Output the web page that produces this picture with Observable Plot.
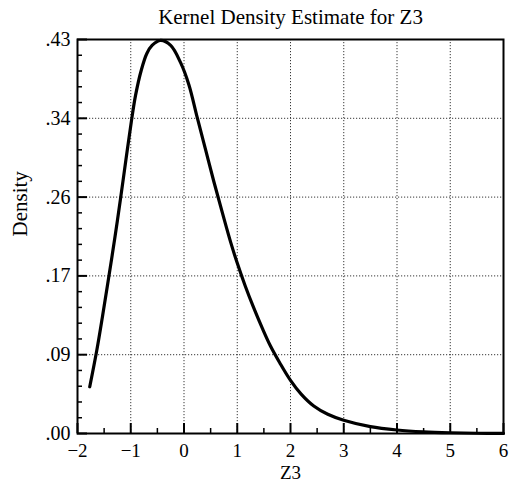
<!DOCTYPE html>
<html>
<head>
<meta charset="utf-8">
<script src="https://cdn.jsdelivr.net/npm/d3@7"></script>
<script src="https://cdn.jsdelivr.net/npm/@observablehq/plot@0.6"></script>
<style>
  html, body { margin: 0; padding: 0; background: white; }
</style>
</head>
<body>
<div id="chart"></div>
<script>
const titleText = "Kernel Density Estimate for Z3";
const xLabel = "Z3";
const yLabel = "Density";

// density curve
const zValues = [-1.77, -1.64, -1.53, -1.415, -1.30, -1.195, -1.09, -0.99, -0.91, -0.80, -0.70, -0.60, -0.44, -0.25, -0.066, 0.09, 0.248, 0.404, 0.56, 0.72, 0.88, 1.0, 1.15, 1.31, 1.47, 1.624, 1.8, 2.0, 2.2, 2.437, 2.7, 3.0, 3.5, 4.0, 4.5, 5.0, 5.5, 6.0];
const densityValues = [0.051, 0.090, 0.128, 0.170, 0.213, 0.255, 0.299, 0.340, 0.369, 0.397, 0.4145, 0.4235, 0.429, 0.4235, 0.405, 0.381, 0.345, 0.310, 0.275, 0.241, 0.208, 0.186, 0.161, 0.137, 0.115, 0.0955, 0.077, 0.058, 0.043, 0.030, 0.021, 0.0145, 0.0075, 0.0038, 0.0018, 0.0008, 0.0003, 0.0001];

// axes
const xTicks = [-2, -1, 0, 1, 2, 3, 4, 5, 6];
const xTickLabels = ["\u22122", "\u22121", "0", "1", "2", "3", "4", "5", "6"];
const yTicks = [0, 0.086, 0.172, 0.258, 0.344, 0.43];
const yTickLabels = [".00", ".09", ".17", ".26", ".34", ".43"];

const data = zValues.map((z, i) => ({z, d: densityValues[i]}));
const xMinor = d3.range(xTicks.length - 1).map(i => (xTicks[i] + xTicks[i + 1]) / 2);
const yMinor = [];
for (let i = 0; i < yTicks.length - 1; i++) {
  for (let k = 1; k < 5; k++) yMinor.push(yTicks[i] + (yTicks[i + 1] - yTicks[i]) * k / 5);
}

const W = 512, H = 492;
const mL = 77, mR = 9, mT = 39, mB = 59;
const innerW = W - mL - mR, innerH = H - mT - mB;

const grid = {stroke: "#222", strokeWidth: 1, strokeDasharray: "1.2,1.8", strokeOpacity: 0.9};
const font = "'Liberation Serif', 'DejaVu Serif', serif";

const chart = Plot.plot({
  width: W, height: H,
  marginLeft: mL, marginRight: mR, marginTop: mT, marginBottom: mB,
  style: {fontFamily: font, fontSize: "20px", background: "white", color: "black", overflow: "visible"},
  x: {domain: [-2, 6], axis: null},
  y: {domain: [0, 0.43], axis: null},
  marks: [
    Plot.ruleX(xTicks.slice(1, -1), {x: d => d, ...grid}),
    Plot.ruleY(yTicks.slice(1, -1), {y: d => d, ...grid}),
    Plot.tickX(xTicks, {x: d => d, insetTop: innerH - 10, stroke: "black", strokeWidth: 2}),
    Plot.tickX(xMinor, {x: d => d, insetTop: innerH - 5, stroke: "black", strokeWidth: 1.5}),
    Plot.tickY(yTicks, {y: d => d, insetRight: innerW - 10, stroke: "black", strokeWidth: 2}),
    Plot.tickY(yMinor, {y: d => d, insetRight: innerW - 5, stroke: "black", strokeWidth: 1.5}),
    Plot.line(data, {x: "z", y: "d", curve: "catmull-rom", stroke: "black", strokeWidth: 3.2}),
    Plot.frame({stroke: "black", strokeWidth: 2}),
    Plot.text(xTicks, {x: d => d, frameAnchor: "bottom", lineAnchor: "middle", dy: 17, fontSize: 19, text: d => xTickLabels[xTicks.indexOf(d)]}),
    Plot.text(yTicks, {y: d => d, frameAnchor: "left", textAnchor: "end", lineAnchor: "middle", dx: -7, fontSize: 20, text: d => yTickLabels[yTicks.indexOf(d)]}),
    Plot.text([titleText], {text: d => d, frameAnchor: "top", lineAnchor: "middle", dy: -22.5, fontSize: 21}),
    Plot.text([xLabel], {text: d => d, frameAnchor: "bottom", lineAnchor: "middle", dy: 39, fontSize: 19}),
    Plot.text([yLabel], {text: d => d, frameAnchor: "left", lineAnchor: "middle", dx: -57, rotate: -90, fontSize: 21})
  ]
});
document.getElementById("chart").appendChild(chart);
</script>
</body>
</html>
